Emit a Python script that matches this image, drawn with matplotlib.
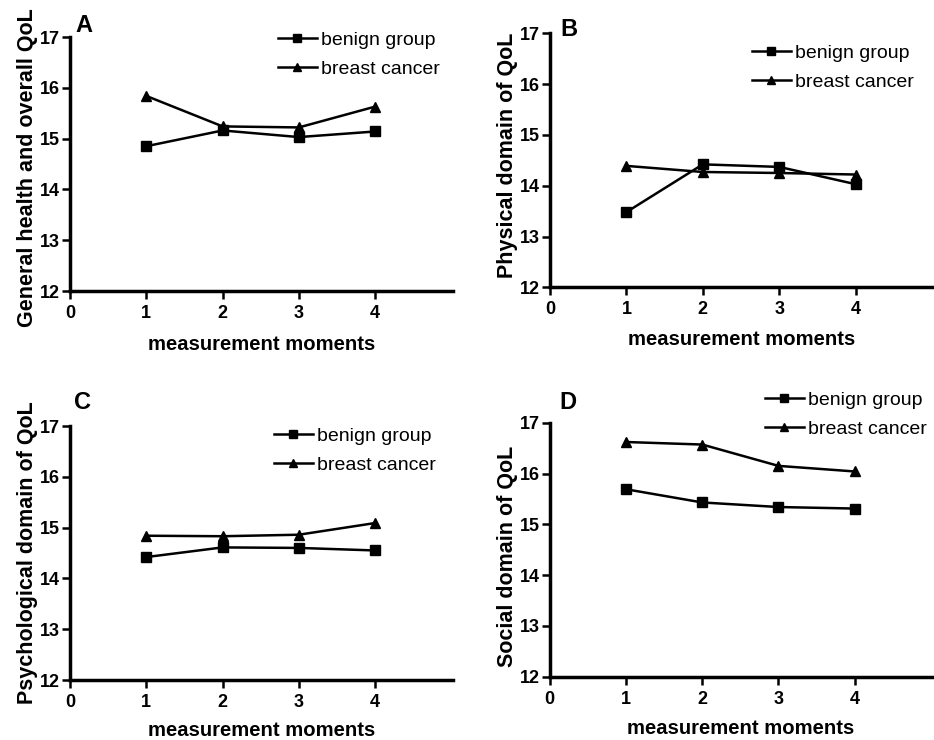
import matplotlib
matplotlib.use('Agg')
import matplotlib.pyplot as plt

plt.rcParams['font.family'] = ['Liberation Sans', 'DejaVu Sans']

# ---------------- data ----------------
moments = [1, 2, 3, 4]
xticks = [0, 1, 2, 3, 4]
yticks = [12, 13, 14, 15, 16, 17]
series_names = ['benign group', 'breast cancer']
panel_letters = ['A', 'B', 'C', 'D']
ylabels = ['General health and overall QoL',
           'Physical domain of QoL',
           'Psychological domain of QoL',
           'Social domain of QoL']
xlabel = 'measurement moments'

benign_A = [14.85, 15.16, 15.03, 15.14]
cancer_A = [15.84, 15.24, 15.22, 15.63]
benign_B = [13.48, 14.42, 14.37, 14.03]
cancer_B = [14.39, 14.27, 14.25, 14.22]
benign_C = [14.42, 14.61, 14.60, 14.55]
cancer_C = [14.84, 14.83, 14.86, 15.09]
benign_D = [15.69, 15.43, 15.34, 15.31]
cancer_D = [16.62, 16.57, 16.15, 16.04]

benign = [benign_A, benign_B, benign_C, benign_D]
cancer = [cancer_A, cancer_B, cancer_C, cancer_D]

# ---------------- layout (pixels) ----------------
W, H = 934, 740
fig = plt.figure(figsize=(W / 100, H / 100), dpi=100)

# left, top, right, bottom in pixels
boxes = [(70, 37, 453, 291),
         (550, 33.3, 933.5, 287.3),
         (70, 426, 453, 680),
         (549.7, 422.7, 932.5, 676.7)]
letter_pos = [(75, 32), (560, 36), (74, 409), (559, 409)]
legend_pos = [(278, 31), (752, 44), (274, 427), (765, 391)]
ylabel_center = [167.5, 155, 553, 556]
xlabel_base = [350, 345, 735.5, 734]

for i in range(4):
    l, t, r, b = boxes[i]
    ax = fig.add_axes([l / W, 1 - b / H, (r - l) / W, (b - t) / H])
    ax.plot(moments, benign[i], color='black', lw=1.8, marker='s', ms=6.8,
            label=series_names[0], clip_on=False)
    ax.plot(moments, cancer[i], color='black', lw=1.8, marker='^', ms=7.5,
            label=series_names[1], clip_on=False)
    ax.set_xlim(0, 5.02)
    ax.set_ylim(12, 17)
    ax.set_xticks(xticks)
    ax.set_yticks(yticks)
    for s in ['top', 'right']:
        ax.spines[s].set_visible(False)
    for s in ['left', 'bottom']:
        ax.spines[s].set_linewidth(2.5)
    ax.tick_params(direction='out', length=5.5, width=1.8, labelsize=13)
    ax.tick_params(axis='x', pad=4.5)
    ax.tick_params(axis='y', pad=1.5)
    for lab in ax.get_xticklabels() + ax.get_yticklabels():
        lab.set_fontweight('bold')
    ax.set_ylabel(ylabels[i], fontsize=15.5, fontweight='bold')
    ax.yaxis.set_label_coords(-31.5 / (r - l), (b - ylabel_center[i]) / (b - t))
    ax.set_xlabel(xlabel, fontsize=14.6, fontweight='bold')
    ax.xaxis.set_label_coords(0.5, -(xlabel_base[i] - b) / (b - t))
    ax.xaxis.label.set_va('baseline')
    # legend
    lx, ly = legend_pos[i]
    ax.legend(loc='upper left', bbox_to_anchor=(lx / W, 1 - ly / H),
              bbox_transform=fig.transFigure, frameon=False, borderpad=0,
              borderaxespad=0, handlelength=2.0, handletextpad=0.2,
              labelspacing=0.6, fontsize=14, markerscale=0.8)
    fig.text(letter_pos[i][0] / W, 1 - letter_pos[i][1] / H, panel_letters[i],
             fontsize=17, fontweight='bold', ha='left', va='baseline')

fig.savefig('out.png', dpi=100)
